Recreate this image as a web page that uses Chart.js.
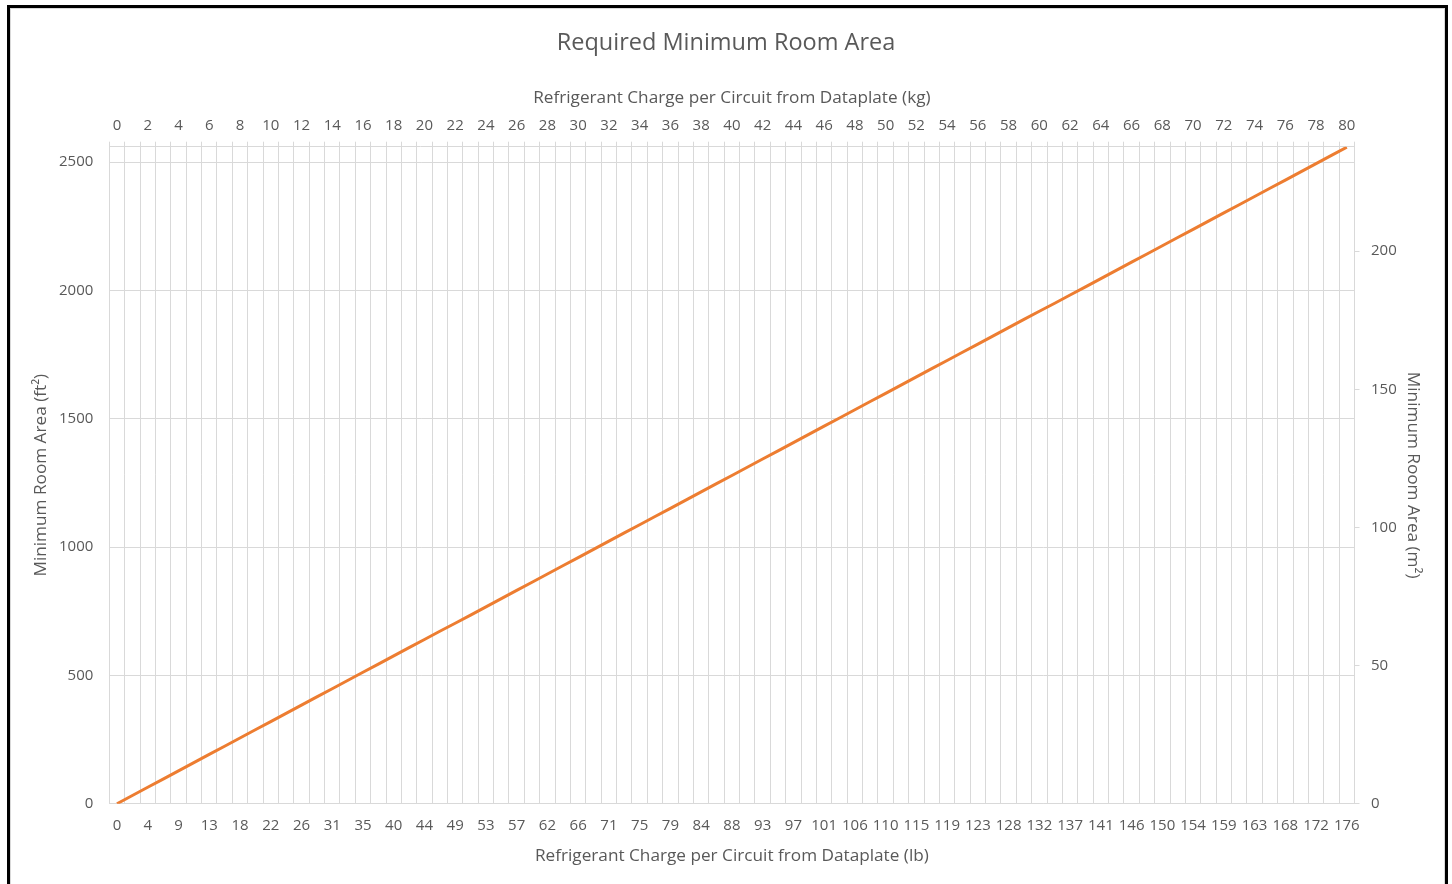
<!DOCTYPE html>
<html>
<head>
<meta charset="utf-8">
<title>Required Minimum Room Area</title>
<script src="https://cdn.jsdelivr.net/npm/chart.js@4.4.1/dist/chart.umd.min.js"></script>
<style>
  body { margin: 0; background: #fff; }
  #wrap { position: relative; width: 1452px; height: 884px; overflow: hidden; }
  #frame {
    position: absolute; left: 7px; top: 5px; width: 1441px; height: 900px;
    border: 3px solid #000; box-sizing: border-box;
    box-shadow: inset 0 0 0 1px #d9d9d9; pointer-events: none;
  }
  canvas { position: absolute; left: 0; top: 0; }
</style>
</head>
<body>
<div id="wrap">
  <canvas id="roomArea" width="1452" height="884"></canvas>
  <div id="frame"></div>
</div>
<script>
// refrigerant charge per circuit, kg (one category per kg)
const kgCharge = [
  0, 1, 2, 3, 4, 5, 6, 7, 8, 9, 10, 11, 12, 13, 14, 15, 16, 17, 18, 19, 20,
  21, 22, 23, 24, 25, 26, 27, 28, 29, 30, 31, 32, 33, 34, 35, 36, 37, 38, 39, 40,
  41, 42, 43, 44, 45, 46, 47, 48, 49, 50, 51, 52, 53, 54, 55, 56, 57, 58, 59, 60,
  61, 62, 63, 64, 65, 66, 67, 68, 69, 70, 71, 72, 73, 74, 75, 76, 77, 78, 79, 80,
]

// bottom axis labels, lb, shown on every second kg category
const lbTicks = [
  0, 4, 9, 13, 18, 22, 26, 31, 35, 40, 44, 49, 53, 57, 62, 66, 71, 75, 79, 84, 88,
  93, 97, 101, 106, 110, 115, 119, 123, 128, 132, 137, 141, 146, 150, 154, 159, 163, 168, 172, 176,
]

// value axis ticks
const ft2Ticks = [0, 500, 1000, 1500, 2000, 2500]
const m2Ticks = [0, 50, 100, 150, 200]

// minimum room area, ft²
const minAreaFt2 = [
  0, 32, 64, 96, 128, 160, 192, 224, 256, 288, 320,
  352, 384, 416, 448, 480, 512, 544, 576, 608, 640,
  672, 703, 735, 767, 799, 831, 863, 895, 927, 959,
  991, 1023, 1055, 1087, 1119, 1151, 1183, 1215, 1247, 1279,
  1311, 1343, 1375, 1407, 1439, 1471, 1503, 1535, 1567, 1599,
  1631, 1663, 1695, 1727, 1759, 1791, 1823, 1855, 1887, 1919,
  1950, 1982, 2014, 2046, 2078, 2110, 2142, 2174, 2206, 2238,
  2270, 2302, 2334, 2366, 2398, 2430, 2462, 2494, 2526, 2558,
]

const AREA_MAX_FT2 = 2560
const FT2_PER_M2 = 10.7639

const TEXT = '#595959'
const GRID = '#d9d9d9'
const FONT = "'Open Sans', sans-serif"
const tickFont = { family: FONT, size: 15 }
const axisTitleFont = { family: FONT, size: 17.2 }

const fixedTicks = (values) => (scale) => {
  scale.ticks = values.map((value) => ({ value }))
}

new Chart('roomArea', {
  type: 'line',
  data: {
    labels: kgCharge,
    datasets: [{
      label: 'Minimum Room Area',
      data: minAreaFt2,
      borderColor: '#ed7d31',
      borderWidth: 3,
      pointRadius: 0,
      tension: 0,
      xAxisID: 'x',
      yAxisID: 'y',
    }],
  },
  options: {
    responsive: false,
    animation: false,
    layout: { padding: 0 },
    plugins: {
      legend: { display: false },
      tooltip: { enabled: false },
      title: {
        display: true,
        text: 'Required Minimum Room Area',
        color: TEXT,
        font: { family: FONT, size: 23.5, weight: 'normal' },
        padding: { top: 29.4, bottom: 0 },
      },
    },
    scales: {
      x: {
        type: 'category',
        position: 'bottom',
        offset: true,
        grid: { offset: true, color: GRID, drawTicks: false },
        border: { color: GRID },
        ticks: {
          color: TEXT,
          font: tickFont,
          padding: 13.3,
          autoSkip: false,
          maxRotation: 0,
          callback: (val, i) => (i % 2 === 0 ? String(lbTicks[i / 2]) : ''),
        },
        title: {
          display: true,
          text: 'Refrigerant Charge per Circuit from Dataplate (lb)',
          color: TEXT,
          font: axisTitleFont,
          padding: { top: 0, bottom: 17.2 },
        },
        afterFit: (scale) => { scale.height = 80.3 },
      },
      x2: {
        type: 'category',
        position: 'top',
        labels: kgCharge,
        offset: true,
        grid: { offset: true, color: GRID, drawOnChartArea: false, drawTicks: true, tickLength: 5 },
        border: { color: GRID },
        ticks: {
          color: TEXT,
          font: tickFont,
          padding: 7.2,
          autoSkip: false,
          maxRotation: 0,
          callback: (val, i) => (i % 2 === 0 ? String(kgCharge[i]) : ''),
        },
        title: {
          display: true,
          text: 'Refrigerant Charge per Circuit from Dataplate (kg)',
          color: TEXT,
          font: axisTitleFont,
          padding: { top: 30.1, bottom: 0 },
        },
        afterFit: (scale) => { scale.height = 89.1 },
      },
      y: {
        position: 'left',
        min: 0,
        max: AREA_MAX_FT2,
        afterBuildTicks: fixedTicks(ft2Ticks),
        grid: { color: GRID, drawTicks: false },
        border: { color: GRID },
        ticks: { color: TEXT, font: tickFont, padding: 16, callback: (v) => String(v) },
        title: {
          display: true,
          text: 'Minimum Room Area (ft²)',
          color: TEXT,
          font: axisTitleFont,
          padding: { top: 30.7, bottom: 0 },
        },
        afterFit: (scale) => { scale.width = 109.3 },
      },
      y2: {
        position: 'right',
        min: 0,
        max: AREA_MAX_FT2 / FT2_PER_M2,
        afterBuildTicks: fixedTicks(m2Ticks),
        grid: { color: GRID, drawOnChartArea: false, drawTicks: true, tickLength: 5 },
        border: { color: GRID },
        ticks: { color: TEXT, font: tickFont, padding: 11.5, callback: (v) => String(v) },
        title: {
          display: true,
          text: 'Minimum Room Area (m²)',
          color: TEXT,
          font: axisTitleFont,
          padding: { top: 28.7, bottom: 0 },
        },
        afterFit: (scale) => { scale.width = 97.5 },
      },
    },
  },
})
</script>
</body>
</html>
